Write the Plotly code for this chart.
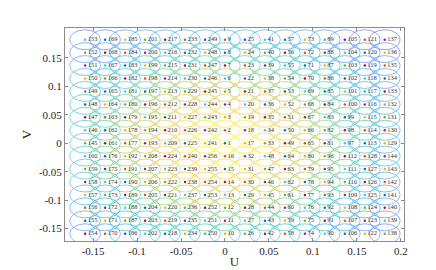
import math
import plotly.graph_objects as go
from plotly.colors import sample_colorscale

# Grid coordinates (spatial frequencies)
U = [-0.1591, -0.1364, -0.1136, -0.0909, -0.0682, -0.0455, -0.0227, 0.0,
     0.0227, 0.0455, 0.0682, 0.0909, 0.1136, 0.1364, 0.1591, 0.1818]
V = [0.1818, 0.1591, 0.1364, 0.1136, 0.0909, 0.0682, 0.0455, 0.0227,
     0.0, -0.0227, -0.0455, -0.0682, -0.0909, -0.1136, -0.1364, -0.1591]

# Point labels, one list per column (top row first)
LABELS = [
    [153, 152, 151, 150, 149, 148, 147, 146, 145, 160, 159, 158, 157, 156, 155, 154],
    [169, 168, 167, 166, 165, 164, 163, 162, 161, 176, 175, 174, 173, 172, 171, 170],
    [185, 184, 183, 182, 181, 180, 179, 178, 177, 192, 191, 190, 189, 188, 187, 186],
    [201, 200, 199, 198, 197, 196, 195, 194, 193, 208, 207, 206, 205, 204, 203, 202],
    [217, 216, 215, 214, 213, 212, 211, 210, 209, 224, 223, 222, 221, 220, 219, 218],
    [233, 232, 231, 230, 229, 228, 227, 226, 225, 240, 239, 238, 237, 236, 235, 234],
    [249, 248, 247, 246, 245, 244, 243, 242, 241, 256, 255, 254, 253, 252, 251, 250],
    [9, 8, 7, 6, 5, 4, 3, 2, 1, 16, 15, 14, 13, 12, 11, 10],
    [25, 24, 23, 22, 21, 20, 19, 18, 17, 32, 31, 30, 29, 28, 27, 26],
    [41, 40, 39, 38, 37, 36, 35, 34, 33, 48, 47, 46, 45, 44, 43, 42],
    [57, 56, 55, 54, 53, 52, 51, 50, 49, 64, 63, 62, 61, 60, 59, 58],
    [73, 72, 71, 70, 69, 68, 67, 66, 65, 80, 79, 78, 77, 76, 75, 74],
    [89, 88, 87, 86, 85, 84, 83, 82, 81, 96, 95, 94, 93, 92, 91, 90],
    [105, 104, 103, 102, 101, 100, 99, 98, 97, 112, 111, 110, 109, 108, 107, 106],
    [121, 120, 119, 118, 117, 116, 115, 114, 113, 128, 127, 126, 125, 124, 123, 122],
    [137, 136, 135, 134, 133, 132, 131, 130, 129, 144, 143, 142, 141, 140, 139, 138],
]

X_TICKS = [-0.15, -0.1, -0.05, 0, 0.05, 0.1, 0.15, 0.2]
X_TICK_TEXT = ["-0.15", "-0.1", "-0.05", "0", "0.05", "0.1", "0.15", "0.2"]
Y_TICKS = [-0.15, -0.1, -0.05, 0, 0.05, 0.1, 0.15]
Y_TICK_TEXT = ["-0.15", "-0.1", "-0.05", "0", "0.05", "0.1", "0.15"]

# Styling
CIRCLE_R = 0.0175
SIGMA = 0.14
DOT_COLORS = ["#0072BD", "#D95319", "#EDB120", "#7E2F8E", "#77AC30", "#4DBEEE", "#A2142F"]
PARULA = [
    [0.0, "rgb(62,38,168)"], [0.15, "rgb(72,82,244)"], [0.3, "rgb(46,135,247)"],
    [0.45, "rgb(18,177,214)"], [0.6, "rgb(55,200,151)"], [0.75, "rgb(171,199,57)"],
    [0.9, "rgb(254,195,56)"], [1.0, "rgb(249,251,21)"],
]
FONT = "Liberation Serif"

xs, ys, texts, dcolors = [], [], [], []
shapes = []
for ci, u in enumerate(U):
    for ri, v in enumerate(V):
        lab = LABELS[ci][ri]
        xs.append(u)
        ys.append(v)
        texts.append(str(lab))
        dcolors.append(DOT_COLORS[(lab - 1) % 7])
        w = math.exp(-(u * u + v * v) / (2 * SIGMA ** 2))
        col = sample_colorscale(PARULA, [w])[0]
        shapes.append(dict(type="circle", xref="x", yref="y",
                           x0=u - CIRCLE_R, x1=u + CIRCLE_R,
                           y0=v - CIRCLE_R, y1=v + CIRCLE_R,
                           line=dict(color=col, width=0.8), opacity=0.7,
                           layer="below"))

fig = go.Figure()
fig.add_trace(go.Scatter(
    x=xs, y=ys, mode="markers+text", text=texts, textposition="middle right",
    marker=dict(size=2.5, color=dcolors),
    textfont=dict(family=FONT, size=6.5, color="#333333"),
    hoverinfo="skip", showlegend=False, cliponaxis=False,
))

axis_common = dict(
    showgrid=False, zeroline=False, showline=True, mirror="ticks",
    linecolor="#8c8c8c", linewidth=1, ticks="inside", ticklen=3,
    tickcolor="#8c8c8c", tickfont=dict(family=FONT, size=11, color="#262626"),
)
fig.update_layout(
    width=436, height=270,
    margin=dict(l=57, r=40, t=20, b=30),
    paper_bgcolor="white", plot_bgcolor="white",
    shapes=shapes,
    xaxis=dict(range=[-0.182, 0.2037], tickvals=X_TICKS, ticktext=X_TICK_TEXT,
               title=dict(text="U", font=dict(family=FONT, size=13, color="#262626"),
                          standoff=0),
               **axis_common),
    yaxis=dict(range=[-0.1718, 0.2024], tickvals=Y_TICKS, ticktext=Y_TICK_TEXT,
               title=dict(text="V", font=dict(family=FONT, size=13, color="#262626"),
                          standoff=4),
               **axis_common),
)
fig.write_html("out.html")
